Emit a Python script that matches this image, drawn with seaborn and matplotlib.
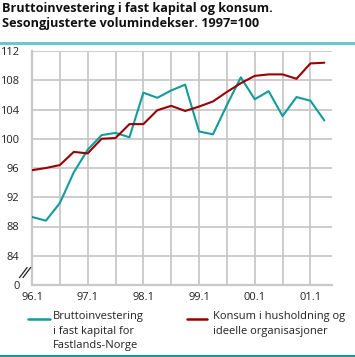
import numpy as np
import pandas as pd
import matplotlib
matplotlib.use("Agg")
import matplotlib.pyplot as plt
import seaborn as sns
from matplotlib.lines import Line2D

# Kvartalsvise volumindekser, 1997=100, 96.1 - 01.2
quarters = ["96.1", "96.2", "96.3", "96.4", "97.1", "97.2", "97.3", "97.4",
            "98.1", "98.2", "98.3", "98.4", "99.1", "99.2", "99.3", "99.4",
            "00.1", "00.2", "00.3", "00.4", "01.1", "01.2"]
investering = [89.3, 88.8, 91.2, 95.4, 98.5, 100.5, 100.8, 100.2,
               106.3, 105.6, 106.6, 107.4, 101.0, 100.6, 104.6, 108.4,
               105.4, 106.5, 103.1, 105.7, 105.2, 102.5]
konsum = [95.7, 96.0, 96.4, 98.2, 98.0, 100.0, 100.1, 102.0,
          102.0, 103.9, 104.5, 103.8, 104.4, 105.1, 106.4, 107.6,
          108.6, 108.8, 108.8, 108.2, 110.3, 110.4]
year_labels = ["96.1", "97.1", "98.1", "99.1", "00.1", "01.1"]
y_ticks = [80, 84, 88, 92, 96, 100, 104, 108, 112]
y_labels = ["0", "84", "88", "92", "96", "100", "104", "108", "112"]

serie_inv = "Bruttoinvestering\ni fast kapital for\nFastlands-Norge"
serie_kon = "Konsum i husholdning og\nideelle organisasjoner"

df = pd.DataFrame({
    "kvartal": list(range(len(quarters))) * 2,
    "indeks": investering + konsum,
    "serie": [serie_inv] * len(quarters) + [serie_kon] * len(quarters),
})

sns.set_style("white")
plt.rcParams["font.family"] = ["Open Sans", "DejaVu Sans"]

teal = "#129c9c"
red = "#990000"
grid = "#c8c8c8"

fig = plt.figure(figsize=(3.55, 3.57), dpi=100)
ax = fig.add_axes([32 / 355, 1 - 285 / 357, 300 / 355, 234 / 357])

sns.lineplot(data=df, x="kvartal", y="indeks", hue="serie",
             palette={serie_inv: teal, serie_kon: red},
             linewidth=1.5, legend=False, ax=ax, zorder=3)

ax.set_xlim(0, 21.55)
ax.set_ylim(80, 112)
ax.set_xlabel("")
ax.set_ylabel("")

# rutenett hvert halvår, etiketter hvert år
ax.set_xticks(np.arange(0, 22, 2))
ax.set_xticklabels([year_labels[i // 2] if i % 2 == 0 else "" for i in range(11)])
ax.set_xticks(np.arange(1, 22, 2), minor=True)
ax.set_yticks(y_ticks)
ax.set_yticklabels(y_labels)
ax.grid(True, color=grid, linewidth=1.3)
ax.tick_params(axis="both", which="major", length=0, labelsize=8, colors="#222222")
ax.tick_params(axis="x", which="major", pad=5)
ax.tick_params(axis="y", which="major", pad=9)
ax.tick_params(axis="x", which="minor", direction="in", length=3.5, width=1, color=grid)

for side in ["top", "right"]:
    ax.spines[side].set_visible(False)
for side in ["left", "bottom"]:
    ax.spines[side].set_color(grid)
    ax.spines[side].set_linewidth(1.6)

# brudd i y-aksen
for dx in [0.0, 0.25]:
    ax.plot([-0.9 + dx, -0.35 + dx], [81.0, 82.4], color="#222222", lw=0.9,
            clip_on=False, zorder=5)

# tittel
fig.text(2 / 355, 1 - 2 / 357,
         "Bruttoinvestering i fast kapital og konsum.\nSesongjusterte volumindekser. 1997=100",
         ha="left", va="top", fontsize=9.1, fontweight="bold", linespacing=1.2,
         color="#111111")
fig.add_artist(Line2D([0, 1], [1 - 43 / 357] * 2, color="#6ac8c8", lw=2.2))
fig.add_artist(Line2D([0, 1], [1 - 355.5 / 357] * 2, color="#1a9a9a", lw=1.6))

# forklaring
fig.add_artist(Line2D([28 / 355, 50 / 355], [1 - 319 / 357] * 2, color=teal, lw=1.8))
fig.text(53 / 355, 1 - 311 / 357, serie_inv, ha="left", va="top", fontsize=8,
         linespacing=1.45, color="#222222")
fig.add_artist(Line2D([187 / 355, 207 / 355], [1 - 319 / 357] * 2, color=red, lw=1.8))
fig.text(213 / 355, 1 - 311 / 357, serie_kon, ha="left", va="top", fontsize=8,
         linespacing=1.45, color="#222222")

fig.savefig("out.png", dpi=100)
